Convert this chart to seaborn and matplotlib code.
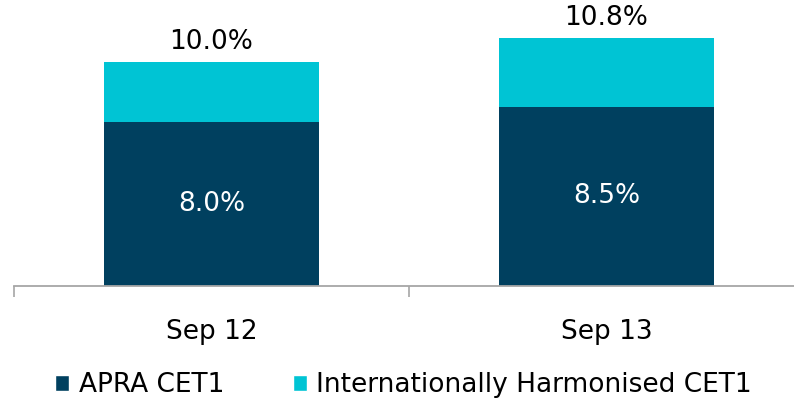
import matplotlib
matplotlib.use("Agg")
import matplotlib.pyplot as plt
from matplotlib.patches import Patch
import seaborn as sns
import pandas as pd

periods = ["Sep 12", "Sep 13"]
apra_cet1 = [8.0, 8.5]
intl_cet1 = [10.0, 10.8]
series_names = ["APRA CET1", "Internationally Harmonised CET1"]

dark = "#00405F"
cyan = "#00C4D4"
axis_grey = "#A6A6A6"
fs = 19

sns.set_theme(style="white")
plt.rcParams["font.family"] = ["DejaVu Sans"]

df = pd.DataFrame({"period": periods, "apra": apra_cet1, "intl": intl_cet1})

fig = plt.figure(figsize=(7.94, 3.99), dpi=100)
ax = fig.add_axes([14 / 794, 113 / 399, 790 / 794, 286 / 399])

# stacked look: full harmonised bar first, APRA bar drawn over it
sns.barplot(data=df, x="period", y="intl", color=cyan, width=0.542, ax=ax,
            saturation=1, edgecolor="none")
sns.barplot(data=df, x="period", y="apra", color=dark, width=0.542, ax=ax,
            saturation=1, edgecolor="none")

ymin = 2.5
ax.set_ylim(ymin, 12.07)
ax.set_xlim(-0.5, 1.5)

for i, (a, t) in enumerate(zip(apra_cet1, intl_cet1)):
    ax.text(i, (ymin + a) / 2, f"{a:.1f}%", ha="center", va="center",
            color="white", fontsize=fs)
ax.bar_label(ax.containers[0], labels=[f"{t:.1f}%" for t in intl_cet1],
             padding=5, fontsize=fs, color="black")

for s in ["top", "left", "right"]:
    ax.spines[s].set_visible(False)
ax.spines["bottom"].set_color(axis_grey)
ax.spines["bottom"].set_linewidth(1.3)

ax.set_yticks([])
ax.set_xticks([0, 1])
ax.set_xticklabels(periods, fontsize=fs)
ax.set_xticks([-0.5, 0.5, 1.5], minor=True)
ax.tick_params(axis="x", which="major", length=0, pad=24, colors="black")
ax.tick_params(axis="x", which="minor", length=8, width=1.2, color=axis_grey,
               direction="out", bottom=True)
ax.set_xlabel("")
ax.set_ylabel("")

handles = [Patch(facecolor=dark, label=series_names[0]),
           Patch(facecolor=cyan, label=series_names[1])]
leg = fig.legend(handles=handles, loc="center", bbox_to_anchor=(0.508, 0.035),
                 ncol=2, frameon=False, fontsize=fs, handlelength=0.55,
                 handleheight=0.55, handletextpad=0.35, columnspacing=2.6)
for txt in leg.get_texts():
    txt.set_color("black")

fig.savefig("out.png", dpi=100)
